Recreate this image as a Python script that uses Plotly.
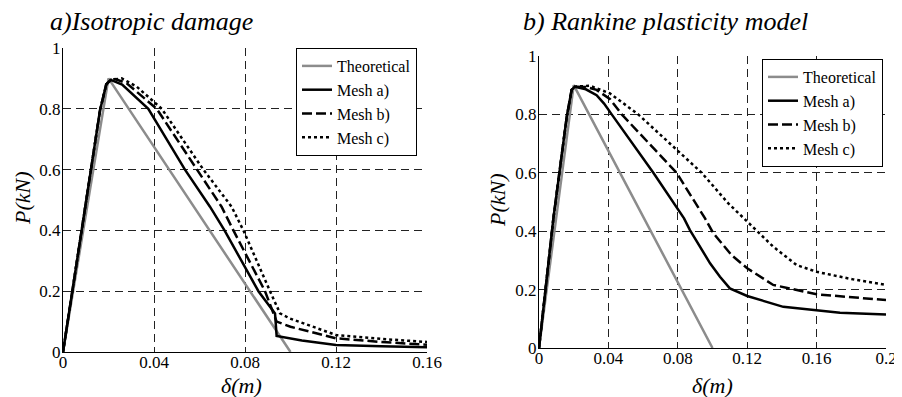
import plotly.graph_objects as go

# ---------------- data ----------------
# a) Isotropic damage
theo_x = [0, 0.02, 0.1]
theo_y = [0, 0.9, 0]

iso_a_x = [0, 0.0097, 0.0163, 0.019, 0.021, 0.026, 0.0375, 0.0536, 0.0646, 0.071, 0.0859, 0.0932, 0.0939, 0.105, 0.12, 0.14, 0.16]
iso_a_y = [0, 0.478, 0.796, 0.88, 0.895, 0.88, 0.8, 0.6, 0.478, 0.4, 0.2, 0.127, 0.053, 0.038, 0.023, 0.019, 0.016]

iso_b_x = [0, 0.0097, 0.0163, 0.019, 0.021, 0.0229, 0.028, 0.0412, 0.0588, 0.0697, 0.0749, 0.0888, 0.0939, 0.1, 0.12, 0.14, 0.16]
iso_b_y = [0, 0.478, 0.796, 0.88, 0.895, 0.898, 0.884, 0.8, 0.6, 0.478, 0.4, 0.2, 0.1, 0.083, 0.045, 0.033, 0.024]

iso_c_x = [0, 0.0097, 0.0163, 0.019, 0.021, 0.0258, 0.0324, 0.0434, 0.0617, 0.0741, 0.0793, 0.091, 0.0954, 0.0998, 0.12, 0.14, 0.16]
iso_c_y = [0, 0.478, 0.796, 0.88, 0.895, 0.9, 0.873, 0.8, 0.6, 0.478, 0.4, 0.2, 0.127, 0.11, 0.056, 0.043, 0.033]

# b) Rankine plasticity model
rk_a_x = [0, 0.0083, 0.016, 0.0188, 0.0207, 0.027, 0.0332, 0.0375, 0.0419, 0.0659, 0.0836, 0.087, 0.0986, 0.1043, 0.11, 0.12, 0.1408, 0.16, 0.1735, 0.2]
rk_a_y = [0, 0.444, 0.792, 0.884, 0.895, 0.886, 0.866, 0.837, 0.8, 0.6, 0.444, 0.404, 0.29, 0.244, 0.204, 0.178, 0.141, 0.128, 0.121, 0.115]

rk_b_x = [0, 0.0083, 0.016, 0.0188, 0.0207, 0.027, 0.0332, 0.041, 0.0477, 0.0793, 0.0957, 0.1005, 0.111, 0.12, 0.135, 0.16, 0.2]
rk_b_y = [0, 0.444, 0.792, 0.884, 0.895, 0.894, 0.884, 0.852, 0.8, 0.6, 0.444, 0.393, 0.318, 0.273, 0.216, 0.184, 0.164]

rk_c_x = [0, 0.0083, 0.016, 0.0188, 0.0207, 0.0294, 0.0409, 0.0572, 0.0938, 0.109, 0.12, 0.135, 0.1485, 0.16, 0.181, 0.2]
rk_c_y = [0, 0.444, 0.792, 0.884, 0.895, 0.898, 0.872, 0.8, 0.6, 0.496, 0.433, 0.347, 0.284, 0.261, 0.235, 0.216]

x_ticks_a = [0, 0.04, 0.08, 0.12, 0.16]
x_text_a = ["0", "0.04", "0.08", "0.12", "0.16"]
x_ticks_b = [0, 0.04, 0.08, 0.12, 0.16, 0.2]
x_text_b = ["0", "0.04", "0.08", "0.12", "0.16", "0.2"]
y_ticks = [0, 0.2, 0.4, 0.6, 0.8, 1]
y_text = ["0", "0.2", "0.4", "0.6", "0.8", "1"]

series_names = ["Theoretical", "Mesh a)", "Mesh b)", "Mesh c)"]
titles = ["a)Isotropic damage", "b) Rankine plasticity model"]

# ---------------- styles ----------------
FONT = "Liberation Serif"
GRAY = "#8c8c8c"
styles = [
    dict(color=GRAY, width=2.5, dash="solid"),
    dict(color="black", width=2.5, dash="solid"),
    dict(color="black", width=2.5, dash="10px,4px"),
    dict(color="black", width=2.5, dash="3px,3px"),
]

fig = go.Figure()

left = [(theo_x, theo_y), (iso_a_x, iso_a_y), (iso_b_x, iso_b_y), (iso_c_x, iso_c_y)]
right = [(theo_x, theo_y), (rk_a_x, rk_a_y), (rk_b_x, rk_b_y), (rk_c_x, rk_c_y)]

for (xs, ys), name, st in zip(left, series_names, styles):
    fig.add_trace(go.Scatter(x=xs, y=ys, mode="lines", name=name, line=st,
                             xaxis="x", yaxis="y", legend="legend"))
for (xs, ys), name, st in zip(right, series_names, styles):
    fig.add_trace(go.Scatter(x=xs, y=ys, mode="lines", name=name, line=st,
                             xaxis="x2", yaxis="y2", legend="legend2"))

W, H = 902, 397
OFF = 8  # page body margin of the written html

def px_x(p):
    return (p - OFF) / W

def px_y(p):
    return 1 - (p - OFF) / H

axis_common = dict(
    showgrid=True, gridcolor="#222222", gridwidth=1, griddash="8px,5px",
    zeroline=False, showline=True, linecolor="black", linewidth=1,
    ticks="", automargin=False,
    tickfont=dict(family=FONT, size=17, color="black"),
)

fig.update_layout(
    width=W, height=H,
    margin=dict(l=0, r=0, t=0, b=0, autoexpand=False),
    paper_bgcolor="white", plot_bgcolor="white",
    font=dict(family=FONT, color="black"),
    xaxis=dict(domain=[px_x(63), px_x(427)], range=[0, 0.16], anchor="y",
               tickvals=x_ticks_a, ticktext=x_text_a, ticklabelstandoff=-5, **axis_common),
    yaxis=dict(domain=[px_y(352), px_y(48)], range=[0, 1], anchor="x",
               tickvals=y_ticks, ticktext=y_text, ticklabelstandoff=-2, **axis_common),
    xaxis2=dict(domain=[px_x(539), px_x(886)], range=[0, 0.2], anchor="y2",
                tickvals=x_ticks_b, ticktext=x_text_b, ticklabelstandoff=-5, **axis_common),
    yaxis2=dict(domain=[px_y(348), px_y(56)], range=[0, 1], anchor="x2",
                tickvals=y_ticks, ticktext=y_text, ticklabelstandoff=-2, **axis_common),
    legend=dict(x=px_x(417), y=px_y(48), xanchor="right", yanchor="top",
                bgcolor="white", bordercolor="black", borderwidth=1,
                font=dict(family=FONT, size=16, color="black"),
                itemwidth=30, tracegroupgap=0),
    legend2=dict(x=px_x(883), y=px_y(59), xanchor="right", yanchor="top",
                 bgcolor="white", bordercolor="black", borderwidth=1,
                 font=dict(family=FONT, size=16, color="black"),
                 itemwidth=30, tracegroupgap=0),
    showlegend=True,
)

ann_font_title = dict(family=FONT, size=26, color="black")
ann_font_axis = dict(family=FONT, size=22, color="black")
fig.add_annotation(text="<i>" + titles[0] + "</i>", xref="paper", yref="paper",
                   x=px_x(48), y=px_y(22), xanchor="left", yanchor="middle",
                   showarrow=False, font=ann_font_title)
fig.add_annotation(text="<i>" + titles[1] + "</i>", xref="paper", yref="paper",
                   x=px_x(521), y=px_y(21), xanchor="left", yanchor="middle",
                   showarrow=False, font=ann_font_title)
fig.add_annotation(text="<i>δ(m)</i>", xref="paper", yref="paper",
                   x=px_x(241), y=px_y(385), xanchor="center", yanchor="middle",
                   showarrow=False, font=ann_font_axis)
fig.add_annotation(text="<i>δ(m)</i>", xref="paper", yref="paper",
                   x=px_x(712), y=px_y(385), xanchor="center", yanchor="middle",
                   showarrow=False, font=ann_font_axis)
fig.add_annotation(text="<i>P(kN)</i>", xref="paper", yref="paper",
                   x=px_x(22), y=px_y(198), xanchor="center", yanchor="middle",
                   textangle=-90, showarrow=False, font=ann_font_axis)
fig.add_annotation(text="<i>P(kN)</i>", xref="paper", yref="paper",
                   x=px_x(497), y=px_y(200), xanchor="center", yanchor="middle",
                   textangle=-90, showarrow=False, font=ann_font_axis)

fig.write_html("out.html")
